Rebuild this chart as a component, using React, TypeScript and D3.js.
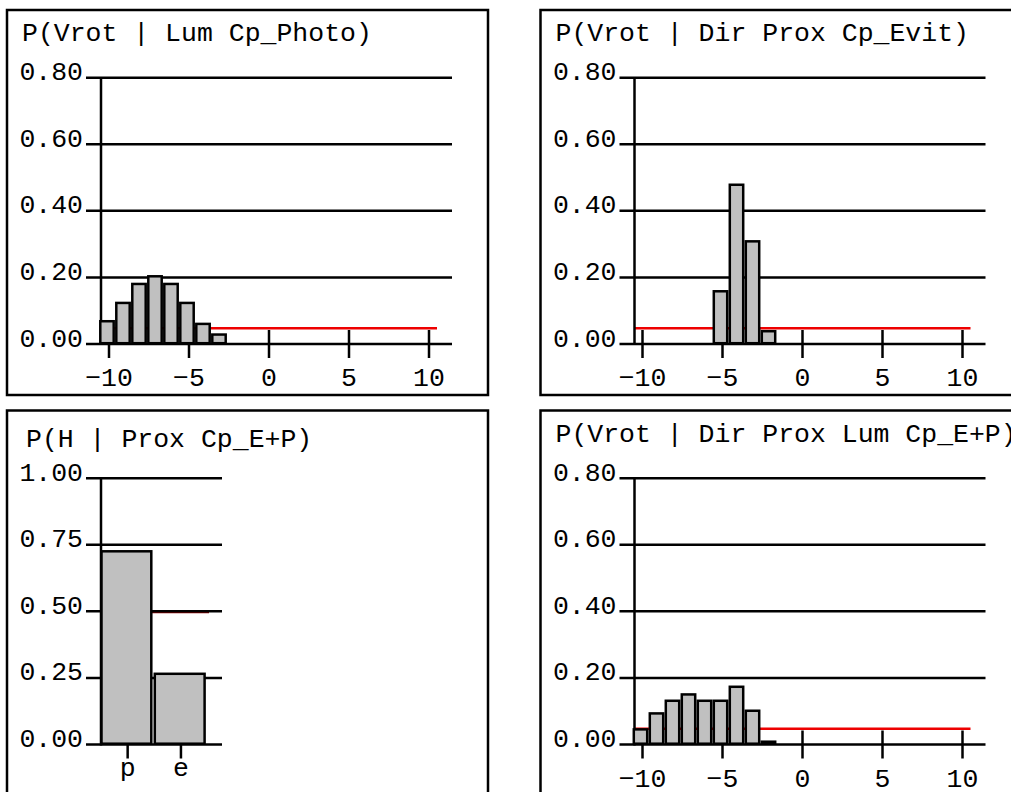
import React from "react";
import * as d3 from "d3";

// ---- data ----
const vrotDomain = [-10.5, 10.5];
const vrotXTicks = [-10, -5, 0, 5, 10];
const vrotYTicks = [0, 0.2, 0.4, 0.6, 0.8];
const vrotUniform = 0.0476;

const photoBins = [-10, -9, -8, -7, -6, -5, -4, -3];
const photoValues = [0.072, 0.127, 0.184, 0.207, 0.184, 0.127, 0.064, 0.032];

const evitBins = [-5, -4, -3, -2];
const evitValues = [0.162, 0.482, 0.312, 0.042];

const epBins = [-10, -9, -8, -7, -6, -5, -4, -3, -2];
const epValues = [0.049, 0.097, 0.135, 0.154, 0.135, 0.135, 0.177, 0.105, 0.012];

const hCategories = ["p", "e"];
const hValues = [0.73, 0.27];
const hYTicks = [0, 0.25, 0.5, 0.75, 1.0];
const hUniform = 0.5;

const FONT = "'Liberation Mono', 'Courier New', monospace";
const FS = 26.5;
const LW = 2.5;
const BAR_FILL = "#c0c0c0";

const fmt2 = d3.format(".2f");
const fmtInt = d3.format("d");

function Frame({ left, top }: { left: number; top: number }) {
  return (
    <rect x={left} y={top} width={481} height={385} fill="white" stroke="black" strokeWidth={LW} />
  );
}

function Title({ left, top, text, dx = 0, dy = 0 }: any) {
  return (
    <text x={left + 15 + dx} y={top + 31 + dy} fontFamily={FONT} fontSize={FS} fill="black" style={{ whiteSpace: "pre" }}>
      {text}
    </text>
  );
}

function HistPanel({ left, top, title, bins, values }: any) {
  const x = d3.scaleLinear().domain(vrotDomain).range([left + 94, left + 430]);
  const y = d3.scaleLinear().domain([0, 0.8]).range([top + 334, top + 67.7]);
  const y0 = y(0);
  const gx0 = left + 79;
  const gx1 = left + 445;
  return (
    <g>
      <Frame left={left} top={top} />
      <Title left={left} top={top} text={title} />
      {/* uniform reference line */}
      <line x1={x(vrotDomain[0])} x2={x(vrotDomain[1])} y1={y(vrotUniform)} y2={y(vrotUniform)} stroke="#ee0000" strokeWidth={2.5} />
      {vrotYTicks.map((t) => (
        <g key={t}>
          <line x1={gx0} x2={gx1} y1={y(t)} y2={y(t)} stroke="black" strokeWidth={LW} />
          <text x={left + 76} y={y(t) + 2.5} textAnchor="end" fontFamily={FONT} fontSize={FS}>
            {fmt2(t)}
          </text>
        </g>
      ))}
      <line x1={x(vrotDomain[0])} x2={x(vrotDomain[0])} y1={y(0.8)} y2={y0 + 1} stroke="black" strokeWidth={LW} />
      {vrotXTicks.map((t) => (
        <g key={t}>
          <line x1={x(t)} x2={x(t)} y1={y0 - 14} y2={y0 + 14} stroke="black" strokeWidth={LW} />
          <text x={x(t)} y={y0 + 42} textAnchor="middle" fontFamily={FONT} fontSize={FS}>
            {fmtInt(t)}
          </text>
        </g>
      ))}
      {bins.map((b: number, i: number) => {
        const xa = x(b - 0.5);
        const xb = x(b + 0.5);
        const yt = y(values[i]);
        return (
          <rect
            key={b}
            x={xa - 0.7}
            y={yt + 1.2}
            width={xb - xa - 2.6}
            height={Math.max(y0 - yt - 2, 1)}
            fill={BAR_FILL}
            stroke="black"
            strokeWidth={LW}
          />
        );
      })}
    </g>
  );
}

function CatPanel({ left, top, title }: any) {
  const x = d3.scaleBand().domain(hCategories).range([left + 94, left + 200.6]).padding(0);
  const y = d3.scaleLinear().domain([0, 1]).range([top + 334, top + 67.7]);
  const y0 = y(0);
  const gx0 = left + 79;
  const gx1 = left + 215;
  const bw = x.bandwidth();
  return (
    <g>
      <Frame left={left} top={top} />
      <Title left={left} top={top} text={title} dx={4} dy={5} />
      <line x1={left + 94} x2={left + 202} y1={y(hUniform) + 0.6} y2={y(hUniform) + 0.6} stroke="#8a0000" strokeWidth={2.5} />
      {hYTicks.map((t) => (
        <g key={t}>
          <line x1={gx0} x2={gx1} y1={y(t)} y2={y(t)} stroke="black" strokeWidth={LW} />
          <text x={left + 76} y={y(t) + 2.5} textAnchor="end" fontFamily={FONT} fontSize={FS}>
            {fmt2(t)}
          </text>
        </g>
      ))}
      <line x1={left + 94} x2={left + 94} y1={y(1)} y2={y0 + 1} stroke="black" strokeWidth={LW} />
      {hCategories.map((c) => (
        <g key={c}>
          <line x1={(x(c) as number) + bw / 2} x2={(x(c) as number) + bw / 2} y1={y0 - 14} y2={y0 + 14} stroke="black" strokeWidth={LW} />
          <text x={(x(c) as number) + bw / 2} y={y0 + 31} textAnchor="middle" fontFamily={FONT} fontSize={FS}>
            {c}
          </text>
        </g>
      ))}
      {hCategories.map((c, i) => {
        const xa = x(c) as number;
        const yt = y(hValues[i]);
        return (
          <rect
            key={c}
            x={xa + 0.5}
            y={yt + 1.2}
            width={bw - 3.5}
            height={Math.max(y0 - yt - 2, 1)}
            fill={BAR_FILL}
            stroke="black"
            strokeWidth={LW}
          />
        );
      })}
    </g>
  );
}

export default function App() {
  return (
    <svg
      width={1011}
      height={792}
      style={{ position: "absolute", left: 0, top: 0, background: "white" }}
    >
      <rect x={0} y={0} width={1011} height={792} fill="white" />
      <HistPanel left={7} top={10} title="P(Vrot | Lum Cp_Photo)" bins={photoBins} values={photoValues} />
      <HistPanel left={540.5} top={10} title="P(Vrot | Dir Prox Cp_Evit)" bins={evitBins} values={evitValues} />
      <CatPanel left={7} top={410.5} title="P(H | Prox Cp_E+P)" />
      <HistPanel left={540.5} top={410.5} title="P(Vrot | Dir Prox Lum Cp_E+P)" bins={epBins} values={epValues} />
    </svg>
  );
}
